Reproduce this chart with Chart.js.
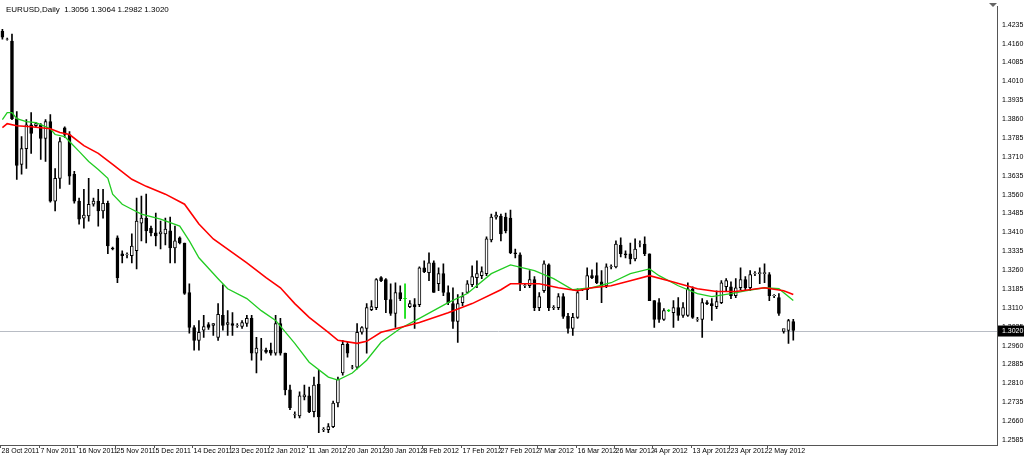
<!DOCTYPE html>
<html><head><meta charset="utf-8">
<script src="https://cdn.jsdelivr.net/npm/chart.js@4.4.1/dist/chart.umd.min.js"></script>
<style>html,body{margin:0;padding:0;background:#fff}#w{width:1024px;height:457px}</style>
</head><body><div id="w"><canvas id="c"></canvas></div>
<script>
// prices in pips (1e-4)
const opens=[14209,14178,14170,13862,13680,13743,13838,13834,13838,13783,13850,13534,13625,13826,13799,13641,13534,13467,13475,13522,13534,13495,13526,13348,13388,13325,13321,13317,13337,13447,13467,13427,13408,13404,13404,13416,13348,13388,13368,13171,13032,12981,13021,13044,13040,12993,13080,13044,13048,13040,13036,13048,13068,12930,12942,12942,12942,12930,13048,12930,12784,12685,12681,12756,12760,12697,12807,12626,12626,12638,12732,12851,12965,12874,12874,13013,13028,13103,13111,13230,13222,13143,13088,13171,13147,13115,13123,13123,13269,13250,13289,13206,13246,13171,13127,13056,13131,13171,13202,13230,13238,13246,13380,13471,13475,13471,13467,13329,13321,13198,13198,13222,13111,13178,13281,13111,13111,13155,13076,13028,13072,13182,13182,13238,13238,13214,13198,13273,13273,13360,13325,13325,13305,13364,13364,13325,13139,13131,13064,13099,13091,13111,13080,13080,13186,13064,13064,13131,13127,13115,13131,13194,13194,13159,13190,13222,13190,13246,13246,13246,13242,13159,13151,13016,13020,13056];
const highs=[14217,14182,14198,13890,13791,13858,13886,13846,13842,13858,13878,13664,13787,13830,13811,13653,13546,13581,13625,13546,13581,13581,13534,13352,13396,13337,13329,13404,13546,13554,13562,13435,13487,13455,13467,13471,13435,13392,13368,13206,13040,13060,13080,13052,13048,13127,13202,13099,13091,13048,13060,13080,13080,12993,12989,12950,12970,13080,13068,12930,12803,12697,12776,12803,12795,12835,12862,12634,12650,12740,12835,12981,12973,12882,13048,13036,13127,13139,13226,13234,13226,13206,13210,13198,13206,13139,13147,13273,13297,13329,13297,13269,13285,13198,13190,13163,13171,13218,13277,13297,13273,13392,13483,13491,13483,13487,13499,13344,13329,13206,13258,13234,13171,13297,13285,13119,13167,13167,13088,13088,13186,13186,13269,13261,13289,13258,13285,13281,13376,13388,13337,13368,13384,13376,13392,13325,13139,13147,13107,13103,13139,13151,13131,13210,13194,13072,13147,13139,13147,13178,13218,13226,13214,13226,13269,13234,13258,13254,13269,13285,13250,13163,13167,13024,13064,13064];
const lows=[14178,14174,13858,13621,13641,13664,13724,13830,13700,13692,13530,13495,13585,13787,13601,13526,13443,13427,13455,13514,13435,13467,13325,13340,13210,13289,13309,13289,13265,13376,13368,13396,13356,13344,13360,13289,13289,13364,13163,13009,12942,12942,12993,13024,13001,12981,13021,13001,13001,13032,13028,13036,12902,12851,12902,12930,12922,12922,12922,12764,12705,12673,12673,12744,12693,12677,12614,12618,12614,12634,12716,12843,12914,12867,12867,13005,12930,13099,13103,13214,13091,13080,13032,13139,13068,13111,13028,13115,13250,13218,13171,13178,13159,13123,13028,12973,13119,13167,13194,13190,13226,13238,13372,13463,13376,13408,13325,13309,13178,13190,13190,13099,13099,13171,13099,13103,13103,13068,13009,13001,13068,13178,13143,13226,13206,13131,13190,13265,13269,13313,13309,13285,13297,13352,13317,13139,13032,13052,13060,13095,13032,13060,13072,13076,13068,13056,12993,13123,13060,13107,13127,13178,13147,13151,13182,13178,13178,13238,13206,13210,13139,13151,13080,13009,12969,12982];
const closes=[14186,14178,13862,13676,13743,13838,13803,13842,13783,13850,13534,13625,13771,13799,13633,13534,13463,13479,13522,13534,13495,13526,13356,13344,13230,13317,13321,13356,13455,13467,13416,13408,13396,13412,13423,13348,13376,13368,13167,13032,12981,13013,13036,13032,13048,13084,13040,13052,13040,13040,13052,13068,12930,12950,12942,12934,12930,13048,12930,12784,12713,12685,12760,12764,12697,12803,12677,12626,12638,12732,12827,12965,12930,12874,13013,13032,13111,13115,13222,13218,13143,13088,13171,13147,13147,13127,13115,13269,13254,13289,13171,13246,13171,13131,13056,13127,13155,13206,13234,13246,13254,13384,13471,13479,13404,13416,13329,13325,13206,13198,13222,13111,13155,13285,13111,13111,13155,13076,13028,13072,13171,13182,13238,13230,13210,13198,13273,13273,13364,13325,13321,13305,13344,13364,13325,13139,13064,13064,13099,13099,13111,13080,13111,13186,13072,13064,13131,13127,13119,13135,13210,13218,13159,13190,13222,13190,13242,13246,13250,13250,13159,13159,13088,13028,13060,13020];
const dateLabels=['28 Oct 2011','7 Nov 2011','16 Nov 2011','25 Nov 2011','5 Dec 2011','14 Dec 2011','23 Dec 2011','2 Jan 2012','11 Jan 2012','20 Jan 2012','30 Jan 2012','8 Feb 2012','17 Feb 2012','27 Feb 2012','7 Mar 2012','16 Mar 2012','26 Mar 2012','4 Apr 2012','13 Apr 2012','23 Apr 2012','2 May 2012'];
const fastMA={0:13858,1:13886,2:13886,3:13862,5:13850,7:13846,8:13838,10:13822,11:13799,13:13791,14:13771,16:13732,18:13692,20:13660,22:13625,23:13562,25:13522,27:13502,29:13483,33:13463,37:13435,39:13376,41:13309,45:13226,47:13186,51:13147,54:13099,57:13060,61:12969,64:12894,68:12835,70:12823,73:12851,76:12902,79:12973,83:13028,87:13068,93:13131,97:13167,102:13246,106:13281,111:13258,115:13226,119:13182,123:13190,127:13210,131:13246,135:13265,137:13238,141:13198,145:13167,148:13155,152:13167,155:13178,159:13190,162:13186,165:13139};
const slowMA={0:13826,1:13842,3:13834,6:13830,10:13822,12:13807,14:13799,17:13755,20:13724,23:13680,27:13621,30:13593,34:13562,38:13522,41:13443,44:13384,51:13289,55:13230,58:13190,61:13127,64:13072,68:13013,70:12981,74:12969,76:12977,79:13013,83:13032,87:13052,93:13091,98:13127,104:13182,106:13206,112:13206,116:13190,120:13178,123:13190,127:13198,131:13218,135:13238,139:13218,145:13186,149:13175,153:13175,159:13190,163:13178,165:13163};
const greenBars=[84,139];
const header='EURUSD,Daily  1.3056 1.3064 1.2982 1.3020';
const lastPrice=1.3020;

const TOTAL=208, N=opens.length, P=v=>v/10000;
const labels=[]; for(let i=0;i<TOTAL;i++) labels.push(i%8===0&&dateLabels[i/8]?dateLabels[i/8]:'');
const wick=[],body=[],bcol=[],wcol=[];
for(let i=0;i<N;i++){
  wick.push([P(lows[i]),P(highs[i])]);
  let a=P(Math.min(opens[i],closes[i])),b=P(Math.max(opens[i],closes[i]));
  if(b-a<0.00008){b=a+0.00008;}
  body.push([a,b]);
  const g=greenBars.includes(i);
  bcol.push(g?'#00dd00':(closes[i]<opens[i]?'#000':'#fff'));
  wcol.push(g?'#00dd00':'#000');
}
const toLine=m=>{const a=new Array(N).fill(null);for(const k in m)a[+k]=P(m[k]);return a;};
const FF='"Liberation Sans", Arial, sans-serif';

const overlay={id:'ov',afterDraw(ch){
  const c=ch.ctx,ca=ch.chartArea,xs=ch.scales.x,y=ch.scales.y.getPixelForValue(lastPrice);
  c.save();
  c.font='8px '+FF;c.fillStyle='#000';c.textBaseline='top';c.fillText(header,6,6);
  c.font='7px '+FF;c.textBaseline='top';c.strokeStyle='#555';c.lineWidth=1;
  labels.forEach((t,i)=>{if(!t)return;const x=Math.round(xs.getPixelForValue(i))-1.5;
    c.beginPath();c.moveTo(x,ca.bottom);c.lineTo(x,ca.bottom+3);c.stroke();
    c.fillText(t,x+1,ca.bottom+3);});
  c.fillStyle='#000';c.fillRect(ca.right+1,y-5,26,11);
  c.fillStyle='#fff';c.textBaseline='middle';c.fillText('1.3020',ca.right+5,y+0.5);
  c.fillStyle='#666';c.beginPath();c.moveTo(ca.right-8,3);c.lineTo(ca.right,3);c.lineTo(ca.right-4,7);c.fill();
  c.restore();
},beforeDatasetsDraw(ch){
  const c=ch.ctx,ca=ch.chartArea,y=Math.round(ch.scales.y.getPixelForValue(lastPrice))+0.5;
  c.save();c.strokeStyle='#b8bcc4';c.lineWidth=1;c.beginPath();c.moveTo(ca.left,y);c.lineTo(ca.right,y);c.stroke();c.restore();
}};

new Chart(document.getElementById('c'),{
  data:{labels,datasets:[
    {type:'line',data:toLine(slowMA),borderColor:'#ff0000',borderWidth:1.6,pointRadius:0,spanGaps:true,order:0},
    {type:'line',data:toLine(fastMA),borderColor:'#22cc22',borderWidth:1.3,pointRadius:0,spanGaps:true,order:0},
    {type:'bar',data:body,backgroundColor:bcol,borderColor:wcol,borderWidth:1,borderSkipped:false,barThickness:3,grouped:false,order:1},
    {type:'bar',data:wick,backgroundColor:wcol,borderWidth:0,barThickness:1,grouped:false,order:2}
  ]},
  options:{responsive:true,maintainAspectRatio:false,animation:false,
    layout:{padding:{top:4,left:0,right:0,bottom:0}},
    plugins:{legend:{display:false},tooltip:{enabled:false}},
    scales:{
      x:{offset:true,grid:{display:false},border:{color:'#555'},
        ticks:{display:false},
        afterFit:s=>{s.height=12;}},
      y:{position:'right',min:1.2565,max:1.4309,grid:{display:false,tickLength:3},border:{color:'#555'},
        afterBuildTicks:s=>{const t=[];for(let k=0;k<=22;k++)t.push({value:+(1.2585+k*0.0075).toFixed(4)});s.ticks=t;},
        ticks:{color:'#000',padding:2,font:{size:7,family:FF},callback:v=>v.toFixed(4)},
        afterFit:s=>{s.width=27;}}
    }}
,plugins:[overlay]});
</script></body></html>
